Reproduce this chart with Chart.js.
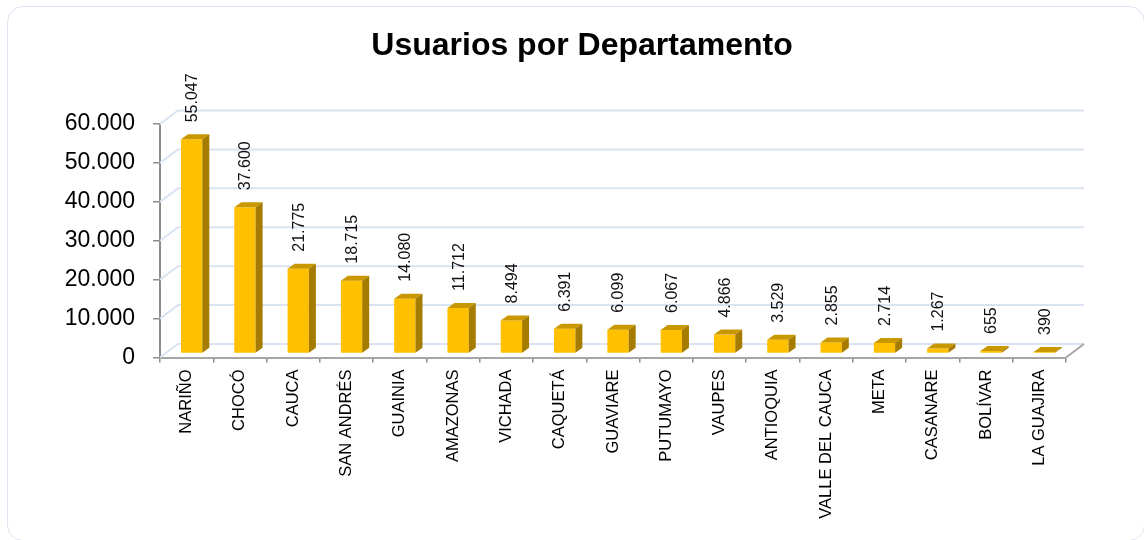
<!DOCTYPE html>
<html>
<head>
<meta charset="utf-8">
<script src="https://cdn.jsdelivr.net/npm/chart.js@4/dist/chart.umd.min.js"></script>
<style>
  html, body { margin: 0; padding: 0; background: #fff; overflow: hidden; }
  #wrap { position: relative; width: 1144px; height: 540px; overflow: hidden; }
  #card {
    position: absolute; left: 7px; top: 6px; width: 1138px; height: 535px;
    border: 1.5px solid #dce5f1; border-radius: 16px; box-sizing: border-box;
  }
  #c { position: absolute; left: 0; top: 0; }
</style>
</head>
<body>
<div id="wrap">
  <div id="card"></div>
  <canvas id="c" width="1144" height="540"></canvas>
</div>
<script>
// data
const departamentos = ['NARIÑO', 'CHOCÓ', 'CAUCA', 'SAN ANDRÉS', 'GUAINIA', 'AMAZONAS', 'VICHADA',
  'CAQUETÁ', 'GUAVIARE', 'PUTUMAYO', 'VAUPES', 'ANTIOQUIA', 'VALLE DEL CAUCA', 'META',
  'CASANARE', 'BOLÍVAR', 'LA GUAJIRA'];
const usuarios = [55047, 37600, 21775, 18715, 14080, 11712, 8494, 6391, 6099, 6067, 4866,
  3529, 2855, 2714, 1267, 655, 390];
const yTicks = [0, 10000, 20000, 30000, 40000, 50000, 60000];

const FONT = "'Liberation Sans', Arial, sans-serif";
const fmt = v => String(v).replace(/\B(?=(\d{3})+(?!\d))/g, '.');

// 3d look: back wall offset, bar offset inside the depth, bar depth
const WALL = { dx: 18, dy: -13.5 };
const BAR_SHIFT = { dx: 5, dy: -4 };
const BAR_DEPTH = { dx: 7, dy: -5 };

const wallPlugin = {
  id: 'wall',
  beforeDatasetsDraw(chart) {
    const { ctx, chartArea: a } = chart;
    const y = chart.scales.y;
    ctx.save();
    ctx.lineWidth = 2;
    ctx.strokeStyle = '#d9e3f1';
    yTicks.forEach(v => {
      const py = y.getPixelForValue(v);
      ctx.beginPath();
      ctx.moveTo(a.left, py);
      ctx.lineTo(a.left + WALL.dx, py + WALL.dy);
      ctx.lineTo(a.right + WALL.dx, py + WALL.dy);
      ctx.stroke();
    });
    // floor edge on the right
    ctx.strokeStyle = '#a6a6a6';
    ctx.beginPath();
    ctx.moveTo(a.right, a.bottom);
    ctx.lineTo(a.right + WALL.dx, a.bottom + WALL.dy);
    ctx.stroke();
    ctx.restore();
  }
};

const bar3dPlugin = {
  id: 'bar3d',
  beforeDatasetDraw(chart) {
    chart.ctx.save();
    chart.ctx.translate(BAR_SHIFT.dx, BAR_SHIFT.dy);
  },
  afterDatasetDraw(chart, args) {
    const { ctx } = chart;
    const meta = args.meta;
    meta.data.forEach((bar, i) => {
      const { x, y, base, width } = bar.getProps(['x', 'y', 'base', 'width'], true);
      const x0 = x - width / 2, x1 = x + width / 2;
      ctx.fillStyle = '#c99700';
      ctx.beginPath();
      ctx.moveTo(x0, y);
      ctx.lineTo(x1, y);
      ctx.lineTo(x1 + BAR_DEPTH.dx, y + BAR_DEPTH.dy);
      ctx.lineTo(x0 + BAR_DEPTH.dx, y + BAR_DEPTH.dy);
      ctx.closePath();
      ctx.fill();
      ctx.fillStyle = '#a67c00';
      ctx.beginPath();
      ctx.moveTo(x1, y);
      ctx.lineTo(x1 + BAR_DEPTH.dx, y + BAR_DEPTH.dy);
      ctx.lineTo(x1 + BAR_DEPTH.dx, base + BAR_DEPTH.dy);
      ctx.lineTo(x1, base);
      ctx.closePath();
      ctx.fill();

      // value label, rotated
      ctx.save();
      ctx.translate(x + 1, y + BAR_DEPTH.dy - 12);
      ctx.rotate(-Math.PI / 2);
      ctx.font = '16px ' + FONT;
      ctx.fillStyle = '#111';
      ctx.textAlign = 'left';
      ctx.textBaseline = 'middle';
      ctx.fillText(fmt(usuarios[i]), 0, 0);
      ctx.restore();
    });
    ctx.restore();
  }
};

new Chart(document.getElementById('c'), {
  type: 'bar',
  data: {
    labels: departamentos,
    datasets: [{
      data: usuarios,
      backgroundColor: '#ffc000',
      borderWidth: 0,
      barPercentage: 0.4,
      categoryPercentage: 1.0,
      clip: false
    }]
  },
  options: {
    responsive: false,
    animation: false,
    layout: { padding: { left: 20, right: 0, top: 0, bottom: 0 } },
    plugins: {
      legend: { display: false },
      tooltip: { enabled: false },
      title: {
        display: true,
        text: 'Usuarios por Departamento',
        color: '#000',
        font: { family: FONT, size: 32, weight: 'bold', lineHeight: 1.2 },
        padding: { top: 27, bottom: 58.6 }
      }
    },
    scales: {
      x: {
        afterFit: s => { s.height = 182.5; },
        grid: {
          offset: true,
          drawOnChartArea: false,
          drawTicks: true,
          tickLength: 5,
          color: '#8c8c8c',
          lineWidth: 1.5
        },
        border: { display: true, color: '#a6a6a6', width: 2 },
        ticks: {
          autoSkip: false,
          minRotation: 90,
          maxRotation: 90,
          padding: 7,
          color: '#000',
          font: { family: FONT, size: 16.5 }
        }
      },
      y: {
        min: 0,
        max: 60000,
        afterFit: s => { s.width = 140; },
        grid: {
          drawOnChartArea: false,
          drawTicks: true,
          tickLength: 7,
          color: '#8c8c8c',
          lineWidth: 1.5
        },
        border: { display: true, color: '#8c8c8c', width: 2 },
        ticks: {
          stepSize: 10000,
          padding: 18,
          color: '#000',
          font: { family: FONT, size: 23 },
          callback: v => fmt(v)
        }
      },
      // empty right axis, only reserves room for the back wall
      spacer: {
        type: 'linear',
        position: 'right',
        afterFit: s => { s.width = 78; },
        grid: { display: false },
        border: { display: false },
        ticks: { display: false }
      }
    }
  },
  plugins: [wallPlugin, bar3dPlugin]
});
</script>
</body>
</html>
